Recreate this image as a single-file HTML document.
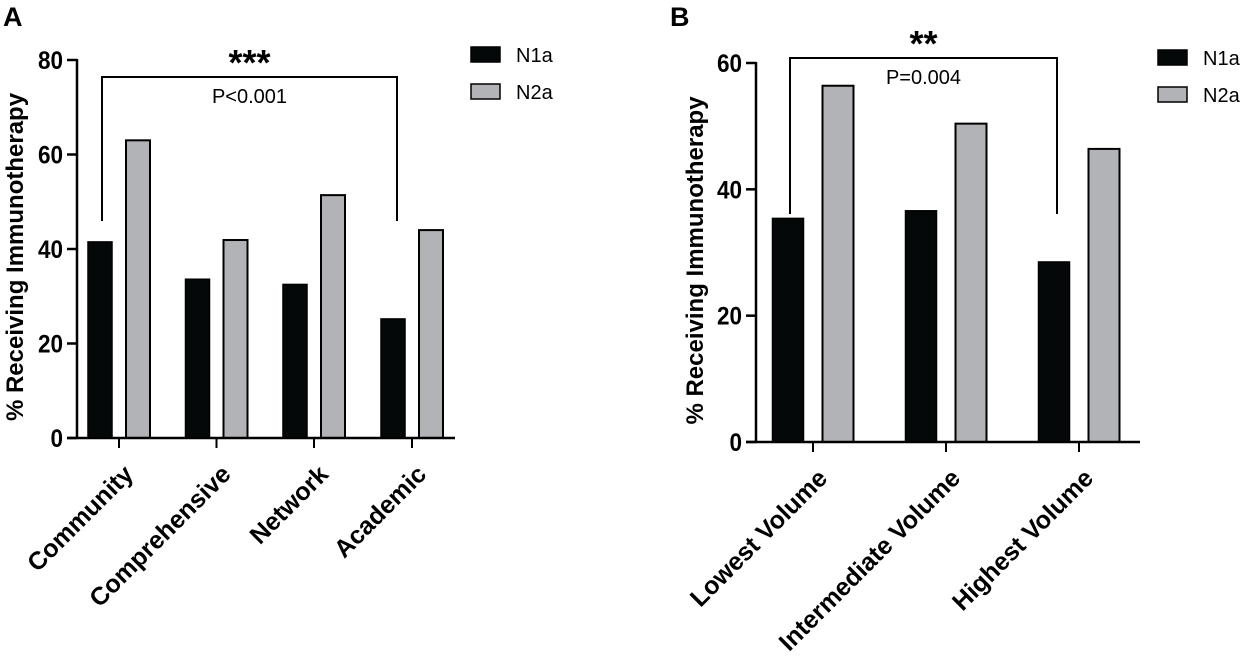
<!DOCTYPE html>
<html><head><meta charset="utf-8"><style>
html,body{margin:0;padding:0;background:#fff;}
svg{display:block;font-family:"Liberation Sans",Arial,sans-serif;}
</style></head><body>
<svg id="chart" width="1240" height="659" viewBox="0 0 1240 659" xmlns="http://www.w3.org/2000/svg">
<text x="3" y="26" font-size="27" font-weight="bold">A</text>
<text x="670" y="26" font-size="27" font-weight="bold">B</text>
<g id="pa"></g>
<g id="pb"></g>
</svg>
<script>
const catsA = ["Community","Comprehensive","Network","Academic"];
const n1aA = [41.5, 33.6, 32.5, 25.2];
const n2aA = [63.0, 41.9, 51.4, 44.0];
const ticksA = [0,20,40,60,80];
const catsB = ["Lowest Volume","Intermediate Volume","Highest Volume"];
const n1aB = [35.4, 36.6, 28.5];
const n2aB = [56.4, 50.4, 46.4];
const ticksB = [0,20,40,60];
const seriesNames = ["N1a","N2a"];

const NS="http://www.w3.org/2000/svg";
function mk(parent,tag,attrs,text){const e=document.createElementNS(NS,tag);for(const k in attrs)e.setAttribute(k,attrs[k]);if(text!==undefined)e.textContent=text;parent.appendChild(e);return e;}

function panel(g,cfg){
  const {cats,s1,s2,ticks,ax,y0,yTop,xEnd,ticksX,barW,gap,ymax,legX,legY,bracket,stars,pText} = cfg;
  const y=v=>y0-(v/ymax)*(y0-yTop);
  cats.forEach((c,i)=>{
    const cx=ticksX[i];
    const b1=mk(g,'rect',{x:cx-gap/2-barW,y:y(s1[i]),width:barW,height:y0-y(s1[i]),fill:'#050808',stroke:'#000','stroke-width':1.5});
    
    
    const b2=mk(g,'rect',{x:cx+gap/2,y:y(s2[i]),width:barW,height:y0-y(s2[i]),fill:'#b2b3b6',stroke:'#000','stroke-width':2});
    
    
    const tk=mk(g,'line',{x1:cx,x2:cx,y1:y0,y2:y0+10,stroke:'#000','stroke-width':2});
    
    
    const lx=cx+3, ly=y0+25;
    const lb=mk(g,'text',{x:lx,y:ly+18,'font-size':25,'font-weight':'bold','text-anchor':'end',transform:`rotate(-45 ${lx} ${ly})`},c);
    
    
  });
  const ya=mk(g,'line',{x1:ax,x2:ax,y1:yTop-1,y2:y0+1,stroke:'#000','stroke-width':2.5});
  
  
  const xa=mk(g,'line',{x1:ax-10,x2:xEnd,y1:y0,y2:y0,stroke:'#000','stroke-width':2.5});
  
  
  ticks.forEach(t=>{
    const l=mk(g,'line',{x1:ax-10,x2:ax,y1:y(t),y2:y(t),stroke:'#000','stroke-width':2.5});
    
    
    const tl=mk(g,'text',{x:ax-14,y:y(t)+9,'font-size':25,'font-weight':'bold','text-anchor':'end','transform':`translate(${(ax-14)*0.1} 0) scale(0.9 1)`},t);
    
    
  });
  const yt=mk(g,'text',{x:0,y:0,'font-size':24,'font-weight':'bold','text-anchor':'middle',transform:`translate(${cfg.titleX} ${(y0+yTop)/2+8}) rotate(-90)`},'% Receiving Immunotherapy');
  
  
  const [bx1,bx2,by,bdown]=bracket;
  const br=mk(g,'path',{d:`M${bx1} ${bdown} V${by} H${bx2} V${bdown}`,fill:'none',stroke:'#000','stroke-width':2});
  
  
  const st=mk(g,'text',{x:(bx1+bx2)/2,y:by-2,'font-size':36,'font-weight':'bold','text-anchor':'middle'},stars);
  
  
  const pt=mk(g,'text',{x:(bx1+bx2)/2,y:by+26,'font-size':20,'text-anchor':'middle'},pText);
  
  
  seriesNames.forEach((n,i)=>{
    const r=mk(g,'rect',{x:legX,y:legY+i*37,width:29,height:15,fill:i?'#b2b3b6':'#050808',stroke:'#000','stroke-width':1.5});
    
    
    const t=mk(g,'text',{x:legX+45,y:legY+i*37+15,'font-size':20},n);
    
    
  });
}
panel(document.getElementById('pa'),{cats:catsA,s1:n1aA,s2:n2aA,ticks:ticksA,ax:77,y0:438,yTop:60,xEnd:455,
  ticksX:[119,216.5,314,412],barW:24,gap:14,ymax:80,legX:471,legY:47,titleX:23,
  bracket:[102,397,77,221],stars:"***",pText:"P<0.001"});
panel(document.getElementById('pb'),{cats:catsB,s1:n1aB,s2:n2aB,ticks:ticksB,ax:756,y0:442,yTop:63,xEnd:1140,
  ticksX:[813,946,1079],barW:31,gap:19,ymax:60,legX:1158,legY:50,titleX:703,
  bracket:[790,1057,58,214],stars:"**",pText:"P=0.004"});
</script>
</body></html>
